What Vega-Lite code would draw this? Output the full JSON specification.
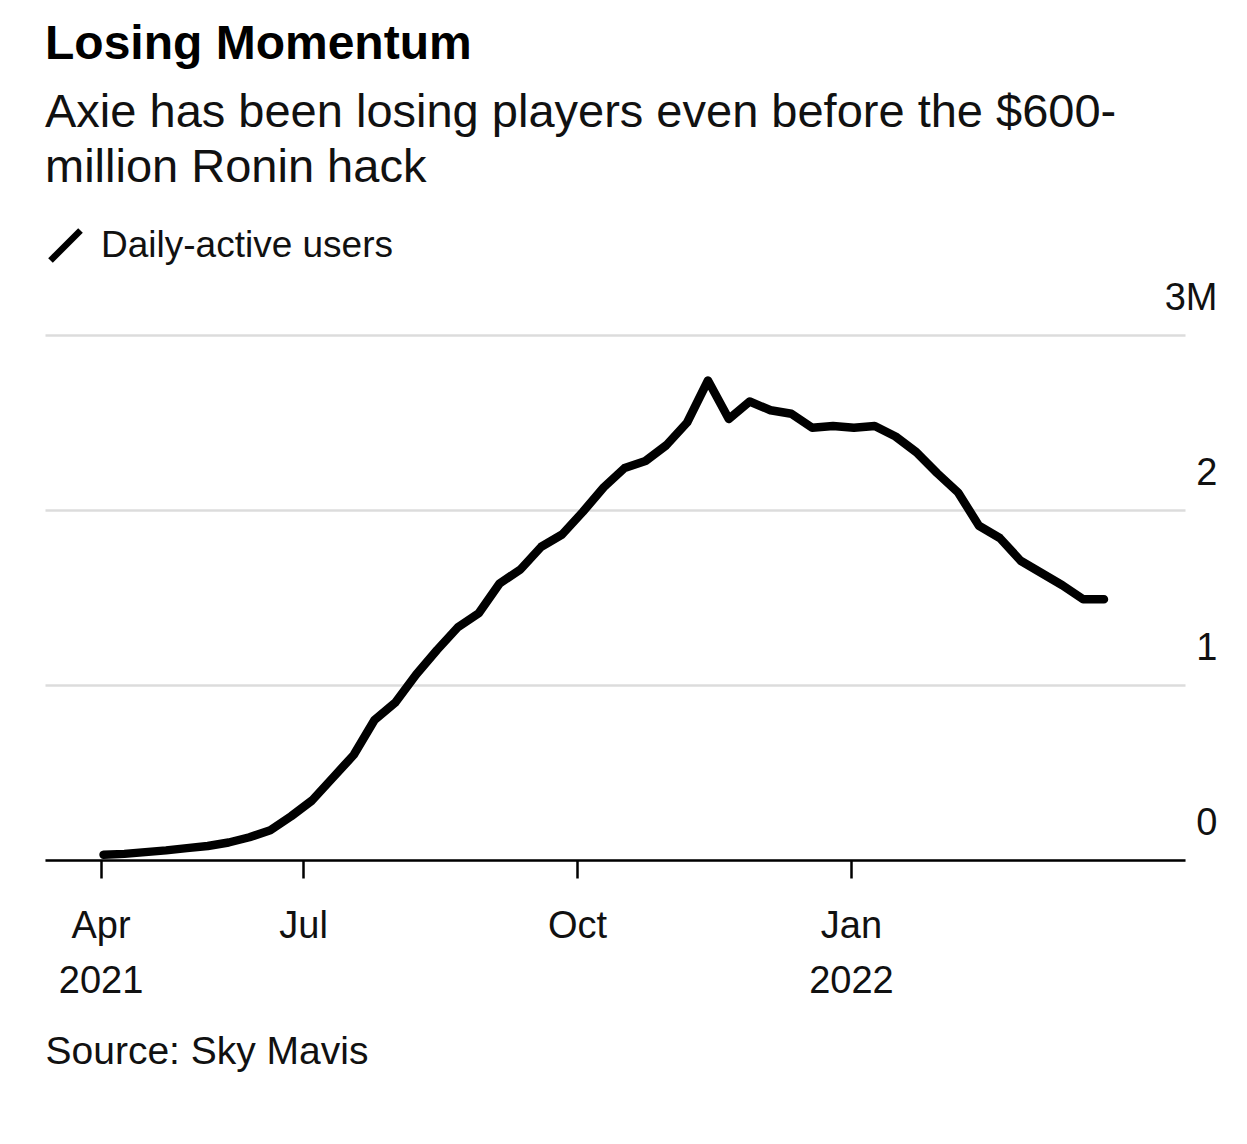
{
  "$schema": "https://vega.github.io/schema/vega-lite/v6.json",
  "width": 1140,
  "height": 525,
  "autosize": "none",
  "padding": {"left": 45, "top": 335, "right": 62, "bottom": 284},
  "background": "#ffffff",
  "title": {
    "text": "Losing Momentum",
    "subtitle": ["Axie has been losing players even before the $600-", "million Ronin hack"],
    "anchor": "start",
    "frame": "group",
    "offset": 36,
    "font": "Liberation Sans",
    "fontSize": 48,
    "fontWeight": "bold",
    "color": "#000000",
    "subtitleFont": "Liberation Sans",
    "subtitleFontSize": 47,
    "subtitleColor": "#111111",
    "subtitleLineHeight": 55,
    "subtitlePadding": 21
  },
  "data": {
    "values": [
      {"date": "2021-04-25", "dau": 30000},
      {"date": "2021-05-02", "dau": 35000},
      {"date": "2021-05-09", "dau": 45000},
      {"date": "2021-05-16", "dau": 55000},
      {"date": "2021-05-23", "dau": 68000},
      {"date": "2021-05-30", "dau": 80000},
      {"date": "2021-06-06", "dau": 100000},
      {"date": "2021-06-13", "dau": 130000},
      {"date": "2021-06-20", "dau": 170000},
      {"date": "2021-06-27", "dau": 250000},
      {"date": "2021-07-04", "dau": 340000},
      {"date": "2021-07-11", "dau": 470000},
      {"date": "2021-07-18", "dau": 600000},
      {"date": "2021-07-25", "dau": 800000},
      {"date": "2021-08-01", "dau": 900000},
      {"date": "2021-08-08", "dau": 1060000},
      {"date": "2021-08-15", "dau": 1200000},
      {"date": "2021-08-22", "dau": 1330000},
      {"date": "2021-08-29", "dau": 1410000},
      {"date": "2021-09-05", "dau": 1580000},
      {"date": "2021-09-12", "dau": 1660000},
      {"date": "2021-09-19", "dau": 1790000},
      {"date": "2021-09-26", "dau": 1860000},
      {"date": "2021-10-03", "dau": 1990000},
      {"date": "2021-10-10", "dau": 2130000},
      {"date": "2021-10-17", "dau": 2240000},
      {"date": "2021-10-24", "dau": 2280000},
      {"date": "2021-10-31", "dau": 2370000},
      {"date": "2021-11-07", "dau": 2500000},
      {"date": "2021-11-14", "dau": 2740000},
      {"date": "2021-11-21", "dau": 2520000},
      {"date": "2021-11-28", "dau": 2620000},
      {"date": "2021-12-05", "dau": 2570000},
      {"date": "2021-12-12", "dau": 2550000},
      {"date": "2021-12-19", "dau": 2470000},
      {"date": "2021-12-26", "dau": 2480000},
      {"date": "2022-01-02", "dau": 2470000},
      {"date": "2022-01-09", "dau": 2480000},
      {"date": "2022-01-16", "dau": 2420000},
      {"date": "2022-01-23", "dau": 2330000},
      {"date": "2022-01-30", "dau": 2210000},
      {"date": "2022-02-06", "dau": 2100000},
      {"date": "2022-02-13", "dau": 1910000},
      {"date": "2022-02-20", "dau": 1840000},
      {"date": "2022-02-27", "dau": 1710000},
      {"date": "2022-03-06", "dau": 1640000},
      {"date": "2022-03-13", "dau": 1570000},
      {"date": "2022-03-20", "dau": 1490000},
      {"date": "2022-03-27", "dau": 1490000}
    ]
  },
  "mark": {
    "type": "line",
    "strokeWidth": 8.5,
    "strokeJoin": "round",
    "strokeCap": "round"
  },
  "encoding": {
    "x": {
      "field": "date",
      "type": "temporal",
      "scale": {
        "type": "utc",
        "domain": [
          {"year": 2021, "month": 4, "date": 5, "hours": 8, "utc": true},
          {"year": 2022, "month": 4, "date": 23, "hours": 5, "utc": true}
        ]
      },
      "axis": {
        "values": [
          {"year": 2021, "month": 4, "date": 24, "utc": true},
          {"year": 2021, "month": 7, "date": 1, "utc": true},
          {"year": 2021, "month": 10, "date": 1, "utc": true},
          {"year": 2022, "month": 1, "date": 1, "utc": true}
        ],
        "labelExpr": "utcmonth(datum.value) == 3 ? ['Apr', '2021'] : utcmonth(datum.value) == 0 ? ['Jan', '2022'] : utcmonth(datum.value) == 6 ? 'Jul' : 'Oct'",
        "grid": false,
        "domainColor": "#000000",
        "domainWidth": 2.5,
        "tickColor": "#000000",
        "tickWidth": 2.5,
        "tickSize": 18,
        "labelFont": "Liberation Sans",
        "labelFontSize": 38,
        "labelColor": "#111111",
        "labelPadding": 29,
        "labelLineHeight": 55,
        "labelFlush": false,
        "labelBaseline": "top",
        "title": "Source: Sky Mavis",
        "titleFont": "Liberation Sans",
        "titleFontSize": 39,
        "titleFontWeight": "normal",
        "titleColor": "#111111",
        "titleAnchor": "start",
        "titleAlign": "left",
        "titleBaseline": "alphabetic",
        "titleX": 0,
        "titleY": 203
      }
    },
    "y": {
      "field": "dau",
      "type": "quantitative",
      "scale": {"domain": [0, 3000000]},
      "axis": {
        "orient": "right",
        "values": [0, 1000000, 2000000, 3000000],
        "labelExpr": "datum.value == 3000000 ? '3M' : format(datum.value / 1000000, 'd')",
        "domain": false,
        "ticks": false,
        "tickSize": 0,
        "grid": true,
        "gridColor": "#dcdcdc",
        "gridWidth": 2.5,
        "labelFont": "Liberation Sans",
        "labelFontSize": 38,
        "labelColor": "#111111",
        "labelAlign": "right",
        "labelBaseline": "alphabetic",
        "labelPadding": 32,
        "labelOffset": -26,
        "labelFlush": false,
        "title": null
      }
    },
    "color": {
      "datum": "Daily-active users",
      "scale": {"range": ["#000000"]},
      "legend": {
        "orient": "none",
        "legendX": 2,
        "legendY": -108,
        "title": null,
        "padding": 0,
        "symbolType": "M-1,1L1,-1",
        "symbolSize": 900,
        "symbolStrokeWidth": 6.5,
        "symbolFillColor": "transparent",
        "symbolStrokeColor": "#000000",
        "labelFont": "Liberation Sans",
        "labelFontSize": 37,
        "labelColor": "#111111",
        "labelOffset": 17,
        "labelLimit": 0
      }
    }
  },
  "config": {
    "view": {"stroke": null}
  }
}
